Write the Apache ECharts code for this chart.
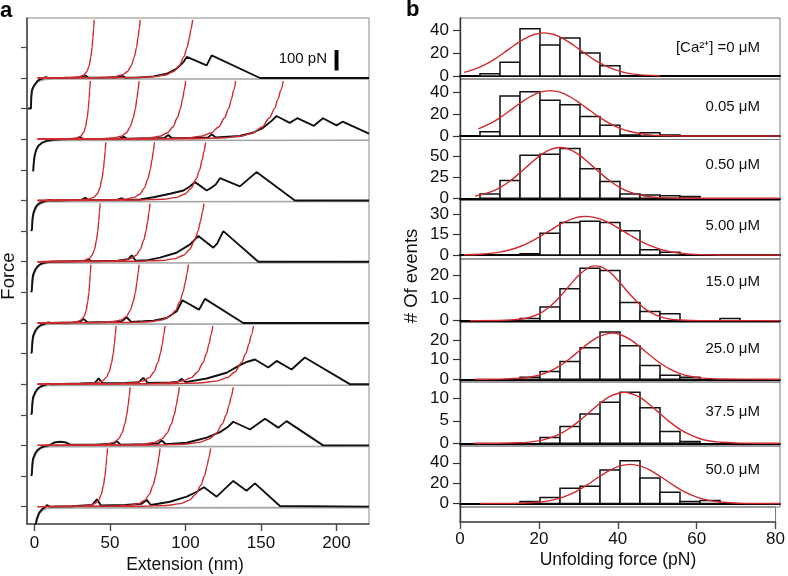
<!DOCTYPE html>
<html><head><meta charset="utf-8">
<script src="https://cdn.jsdelivr.net/npm/echarts@6/dist/echarts.min.js"></script>
<style>html,body{margin:0;padding:0;background:#fff}#c{width:788px;height:576px}</style>
</head><body><div id="c"></div>
<script>
// ---------------- DATA: panel a (force-extension traces, nm / pN relative to each trace baseline) -------------
const EXT_TICKS = [0, 50, 100, 150, 200];
const TRACE_SPACING_PN = 300;          // vertical offset between stacked traces (pN)
const SCALE_BAR_PN = 100;

const BLACK_1 = [[-4.3,-150],[-2.4,-150],[-2.2,-95],[-1.8,-62],[-1,-45],[0.5,-28],[2,-14],[4,-5],[6,-1],[7.5,4],[9,0],[20,1],[31,3],[33.5,13],[35.5,2],[45,2],[55,3],[57.8,12],[60,2],[70,3],[78.7,8],[87.5,21],[94.2,46],[98.6,78],[100.8,103],[114,62],[117.3,111],[149.3,0],[221.5,0]];
const BLACK_2 = [[-0.9,-158],[-0.6,-120],[0,-82],[1,-52],[2.5,-32],[5,-17],[8,-8],[12,-3],[18,0],[28,2],[30.2,11],[32,2],[50,3],[56.5,4],[58.9,13],[61,3],[80,5],[86,6],[88.6,21],[91,5],[110,7],[115,9],[117.3,24],[120,9],[136,16],[145,33],[151.5,57],[157,90],[160.3,114],[169,80],[174,103],[185,66],[191,103],[200,68],[204,86],[221.5,27]];
const BLACK_3 = [[-2.2,-150],[-1.7,-140],[-1.4,-92],[-0.8,-62],[0.5,-36],[2,-20],[4,-10],[7,-3],[9,2],[12,0],[25,2],[31,3],[33.6,13],[36,2],[50,3],[55,4],[57.8,11],[60,3],[70,5],[78.7,16],[89.7,33],[98.6,49],[103,70],[106.3,90],[114,49],[117,62],[120,78],[122.8,109],[136,69],[147,139],[172.4,0],[221.5,0]];
const BLACK_4 = [[-2.2,-150],[-1.8,-140],[-1.5,-95],[-1,-65],[0.5,-38],[2,-22],[4,-11],[7,-4],[10,0],[25,2],[33,3],[35.7,11],[38,2],[55,5],[62,12],[64.4,31],[67,5],[75,8],[83,20],[94,44],[103,85],[108.5,126],[118.4,69],[121,90],[125,150],[148.2,0],[221.5,0]];
const BLACK_5 = [[-2.2,-150],[-1.8,-140],[-1.5,-95],[-1,-65],[0.5,-38],[2,-22],[4,-11],[7,-3],[9,3],[11,0],[25,3],[30,5],[32.4,20],[35,3],[50,5],[58,9],[61,28],[64,5],[72,8],[78.7,11],[87.5,24],[94.2,57],[97.9,111],[108.9,65],[112.9,118],[138.2,0],[221.5,0]];
const BLACK_6 = [[-2.2,-150],[-1.8,-140],[-1.5,-95],[-1,-65],[0.5,-38],[2,-22],[4,-11],[7,-3],[9,3],[11,0],[30,3],[40,6],[42.4,28],[45,5],[60,6],[69,10],[72,31],[75,6],[90,8],[95,12],[97.5,26],[100,10],[114,28],[127.2,56],[136,93],[141,110],[146,121],[154.8,82],[160.3,114],[170.2,72],[179,131],[208.8,0],[221.5,0]];
const BLACK_7 = [[-2.2,-150],[-1.8,-140],[-1.5,-95],[-1,-65],[0.5,-38],[2,-22],[4,-11],[7,-3],[10,2],[13,14],[17,18],[21,14],[24,3],[40,4],[52,8],[54.5,21],[57,4],[75,6],[82,10],[84.2,24],[87,6],[100.8,13],[114,38],[122.8,65],[128,90],[131.6,116],[142.7,78],[152.6,131],[161.4,87],[166.9,119],[191.1,0],[221.5,0]];
const BLACK_8 = [[0.5,-95],[1.5,-60],[3,-30],[5,-12],[7,-3],[8.2,8],[10,0],[25,2],[38,8],[41.3,36],[44,6],[60,8],[71,14],[74.3,33],[77,8],[89.7,24],[100.8,49],[107.4,73],[112.2,95],[120.6,49],[131.6,126],[140.4,78],[146,114],[162.5,3],[221.5,0]];
const BLACK_TRACES = [BLACK_1, BLACK_2, BLACK_3, BLACK_4, BLACK_5, BLACK_6, BLACK_7, BLACK_8];

const GREY_1 = [[-4.3,-146],[-2.3,-144],[-2,-92],[-1.4,-62],[0,-36],[2,-20],[4,-12],[7,-7],[12,-5],[221.5,-5]];
const GREY_2 = [[-0.8,-150],[-0.4,-110],[0.3,-75],[1.5,-48],[3,-30],[5.5,-17],[9,-9],[14,-6],[221.5,-5]];
const GREY_3 = [[-2,-146],[-1.4,-110],[-1,-80],[0,-55],[1.5,-33],[3.5,-18],[6,-10],[10,-6],[221.5,-5]];
const GREY_4 = [[-2,-146],[-1.4,-110],[-1,-80],[0,-55],[1.5,-33],[3.5,-18],[6,-10],[10,-6],[221.5,-5]];
const GREY_5 = [[-2,-146],[-1.4,-110],[-1,-80],[0,-55],[1.5,-33],[3.5,-18],[6,-10],[10,-6],[221.5,-5]];
const GREY_6 = [[-2,-146],[-1.4,-110],[-1,-80],[0,-55],[1.5,-33],[3.5,-18],[6,-10],[10,-6],[221.5,-5]];
const GREY_7 = [[-2,-146],[-1.4,-110],[-1,-80],[0,-55],[1.5,-33],[3.5,-18],[6,-10],[10,-6],[221.5,-5]];
const GREY_8 = [[1,-92],[2,-58],[3.5,-32],[5.5,-16],[8,-9],[12,-6],[221.5,-5]];
const GREY_TRACES = [GREY_1, GREY_2, GREY_3, GREY_4, GREY_5, GREY_6, GREY_7, GREY_8];

// WLC fit curves: x position (nm) where each red fit reaches its top force
const WLC_TOPS = [
  [39.5, 70, 104.7],
  [36.9, 69.2, 100.1, 133.2, 164.7],
  [47.2, 79.4, 113.3],
  [43.4, 76.5, 112.2],
  [37.3, 69.2, 101.9],
  [54, 86.4, 118, 145],
  [63.3, 95.9, 131.6],
  [48.3, 83.1, 116.6]
];
// shape of the red WLC curves: fractional distance before the top vs force (pN)
const WLC_GAP   = [0.4, 0.25, 0.17, 0.12, 0.085, 0.055, 0.035, 0.02, 0.01, 0];
const WLC_FORCE = [2,   6,    15,   32,   60,    105,   150,   200,  240,  285];
const WLC_START = 2;

// ---------------- DATA: panel b (histograms, 5 pN bins from 0) ----------------
const BIN_WIDTH = 5;
const HIST_1 = [0,2,12,41,27,33,20,9,0,0,0,0,0,0,0,0];
const HIST_2 = [0,4,37,41,33,29,18,10,1,3,1,0,0,0,0,0];
const HIST_3 = [0,5,21,51,52,59,35,20,5,4,3,2,0,0,0,0];
const HIST_4 = [0,0,0,1,16,24,25,24,18,4,2,0,0,0,0,0];
const HIST_5 = [0,0,0,1,6,14,23,22,8,4,3,0,0,1,0,0];
const HIST_6 = [0,0,0,1,4,9,16,24,17,7,2,1,0,0,0,0];
const HIST_7 = [0,0,0,0,1.3,3.7,6.5,9.1,11.3,7.9,2.6,0.4,0,0,0,0];
const HIST_8 = [0,0,0,2,6,15,17,33,42,25,11,2,3,0,0,0];
const HISTS = [HIST_1, HIST_2, HIST_3, HIST_4, HIST_5, HIST_6, HIST_7, HIST_8];

const FIT_X_1 = [1,3.5,6,8.5,11,13.5,16,18.5,21,23.5,26,28.5,31,33.5,36,38.5,41,43.5,46,50];
const FIT_Y_1 = [3.2,5.7,9.4,14.3,20.2,26.5,32.1,36.1,37.5,36.1,32.1,26.5,20.2,14.3,9.4,5.7,3.2,1.6,0.8,0.2];
const FIT_X_2 = [4.6,7.5,10,12.5,15,17.5,20,22.5,25,27.5,30,32.5,35,37.5,40,42.5,45,47.5,50,55,60,80];
const FIT_Y_2 = [6.6,11.4,17.0,23.6,30.3,36.3,40.5,42,40.5,36.3,30.3,23.6,17.0,11.4,7.1,4.2,2.3,1.1,0.5,0.1,0,0];
const FIT_X_3 = [3.8,7.5,10,12.5,15,17.5,20,22.5,25,27.5,30,32.5,35,37.5,40,42.5,45,47.5,50,55,60,80];
const FIT_Y_3 = [2.7,7.2,12.6,20.4,30.1,40.7,50.5,57.5,60,57.5,50.5,40.7,30.1,20.4,12.6,7.2,3.8,1.8,0.8,0.1,0,0];
const FIT_X_4 = [1,5,10,12.5,15,17.5,20,22.5,25,27.5,30,31.5,32.5,35,37.5,40,42.5,45,47.5,50,52.5,55,57.5,60,65,80];
const FIT_Y_4 = [0.2,0.6,2.2,3.9,6.3,9.6,13.7,18.2,22.6,26.1,28.2,28.5,28.3,26.6,23.3,19.1,14.6,10.4,6.9,4.3,2.5,1.3,0.7,0.3,0.05,0];
const FIT_X_5 = [2.5,10,15,17.5,20,22.5,25,27.5,30,32.5,34,35,37.5,40,42.5,45,47.5,50,52.5,55,60,80];
const FIT_Y_5 = [0,0.07,0.6,1.5,3.2,6.2,10.5,15.6,20.4,23.5,24,23.8,21.2,16.6,11.5,7.0,3.7,1.8,0.7,0.3,0.03,0];
const FIT_X_6 = [3.75,10,15,17.5,20,22.5,25,27.5,30,32.5,35,38,40,42.5,45,47.5,50,52.5,55,57.5,60,65,80];
const FIT_Y_6 = [0,0.08,0.5,1.1,2.2,4.1,6.9,10.6,14.8,18.9,22.0,23.5,22.8,20.3,16.5,12.2,8.3,5.1,2.9,1.5,0.7,0.1,0];
const FIT_X_7 = [3.3,15,20,22.5,25,27.5,30,32.5,35,37.5,40,41,42.5,45,47.5,50,52.5,55,57.5,60,62.5,65,70,80];
const FIT_Y_7 = [0,0.13,0.6,1.2,2.1,3.4,5.1,7.0,8.9,10.4,11.2,11.3,11.1,10.2,8.5,6.6,4.7,3.1,1.9,1.0,0.5,0.25,0.04,0];
const FIT_X_8 = [5,10,15,20,22.5,25,27.5,30,32.5,35,37.5,40,42.5,45,47.5,50,52.5,55,57.5,60,62.5,65,70,75,80];
const FIT_Y_8 = [0,0.04,0.3,1.5,2.9,5.3,9.0,14.0,20.2,26.8,32.8,37.0,38.5,37.0,32.8,26.8,20.2,14.0,9.0,5.3,2.9,1.5,0.3,0.04,0];
const FIT_X = [FIT_X_1, FIT_X_2, FIT_X_3, FIT_X_4, FIT_X_5, FIT_X_6, FIT_X_7, FIT_X_8];
const FIT_Y = [FIT_Y_1, FIT_Y_2, FIT_Y_3, FIT_Y_4, FIT_Y_5, FIT_Y_6, FIT_Y_7, FIT_Y_8];

const CONC_LABELS = ['[Ca²⁺] =0 μM', '0.05 μM', '0.50 μM', '5.00 μM', '15.0 μM', '25.0 μM', '37.5 μM', '50.0 μM'];
const HIST_YTICKS = [[0,20,40],[0,20,40],[0,25,50],[0,15,30],[0,10,20],[0,10,20],[0,5,10],[0,20,40]];
const FORCE_TICKS = [150,0,-150,-300,-450,-600,-750,-900,-1050,-1200,-1350,-1500,-1650,-1800,-1950,-2100];

// ---------------- LAYOUT ----------------
const FONT = '"Liberation Sans", Arial, Helvetica, sans-serif';
const B_TOPS = [18, 79, 139.5, 200.5, 259, 322.5, 382, 446];
const B_BOTTOM = 507;
const B_AXIS_Y = 522;
const B_YMIN = [-2.6, -3.2, -2.6, -2.9, -0.8, -1.4, -0.6, -3.4];
const B_YMAX = [50.4, 52.7, 69.5, 40.2, 27, 28.9, 13.6, 56.5];
const CONC_Y = [47.5, 106.7, 165, 226, 281.7, 349.3, 411.7, 470];
const RED = '#d02a2e';

const grids = [{ left: 27, right: 419, top: 18, height: 506, show: true, borderColor: '#8a8a8a', borderWidth: 1 }];
const xAxes = [{
  gridIndex: 0, type: 'value', min: -5, max: 221.5, position: 'bottom',
  axisLine: { show: true, onZero: false, lineStyle: { color: '#4a4a4a', width: 1.6 } },
  axisTick: { show: true, customValues: EXT_TICKS, length: 7, lineStyle: { color: '#4a4a4a', width: 1.4 } },
  axisLabel: { show: true, customValues: EXT_TICKS, fontSize: 17, color: '#111', margin: 11, fontFamily: FONT },
  splitLine: { show: false }
}];
const yAxes = [{
  gridIndex: 0, type: 'value', min: -2185, max: 294,
  axisLine: { show: true, onZero: false, lineStyle: { color: '#4a4a4a', width: 1.6 } },
  axisTick: { show: true, customValues: FORCE_TICKS, length: 6, lineStyle: { color: '#4a4a4a', width: 1.2 } },
  axisLabel: { show: false }, splitLine: { show: false }
}];
const series = [];

// panel a traces
BLACK_TRACES.forEach((tr, k) => {
  const off = -TRACE_SPACING_PN * k;
  series.push({ type: 'line', xAxisIndex: 0, yAxisIndex: 0, showSymbol: false, silent: true, z: 2,
    data: GREY_TRACES[k].map(p => [p[0], p[1] + off]), lineStyle: { color: '#a3a3a3', width: 1.6 } });
  series.push({ type: 'line', xAxisIndex: 0, yAxisIndex: 0, showSymbol: false, silent: true, z: 3,
    data: tr.map(p => [p[0], p[1] + off]), lineStyle: { color: '#111', width: 1.9 } });
  WLC_TOPS[k].forEach(top => {
    const pts = [[WLC_START, off]];
    WLC_GAP.forEach((g, i) => pts.push([top * (1 - g), WLC_FORCE[i] + off]));
    series.push({ type: 'line', xAxisIndex: 0, yAxisIndex: 0, showSymbol: false, silent: true, z: 4,
      smooth: 0.3, smoothMonotone: 'x', data: pts, lineStyle: { color: RED, width: 1.4 } });
  });
});
// scale bar
series.push({ type: 'line', xAxisIndex: 0, yAxisIndex: 0, showSymbol: false, silent: true, z: 5,
  data: [[200, 37], [200, 37 + SCALE_BAR_PN]], lineStyle: { color: '#000', width: 4, cap: 'butt' } });

// panel b histograms
HISTS.forEach((h, i) => {
  const gi = i + 1;
  const bottom = i < 7 ? B_TOPS[i + 1] : B_BOTTOM;
  grids.push({ left: 460, right: 8, top: B_TOPS[i], height: bottom - B_TOPS[i], show: true, borderColor: '#7a7a7a', borderWidth: 1 });
  xAxes.push({ gridIndex: gi, type: 'value', min: 0, max: 80, position: 'bottom',
    axisLine: { show: true, onZero: true, lineStyle: { color: '#000', width: 1.8 } },
    axisTick: { show: false }, axisLabel: { show: false }, splitLine: { show: false } });
  yAxes.push({ gridIndex: gi, type: 'value', min: B_YMIN[i], max: B_YMAX[i],
    axisLine: { show: true, onZero: false, lineStyle: { color: '#333', width: 1.4 } },
    axisTick: { show: true, customValues: HIST_YTICKS[i], length: 7, lineStyle: { color: '#333', width: 1.2 } },
    axisLabel: { show: true, customValues: HIST_YTICKS[i], fontSize: 17, color: '#111', margin: 11, fontFamily: FONT },
    splitLine: { show: false } });
  const bars = [];
  h.forEach((c, j) => { if (c > 0) bars.push([j * BIN_WIDTH, (j + 1) * BIN_WIDTH, c]); });
  series.push({ type: 'custom', xAxisIndex: i + 1, yAxisIndex: gi, silent: true, z: 3,
    encode: { x: [0, 1], y: 2 }, data: bars,
    renderItem: (params, api) => {
      const p0 = api.coord([api.value(0), api.value(2)]);
      const p1 = api.coord([api.value(1), 0]);
      return { type: 'rect', shape: { x: p0[0], y: p0[1], width: p1[0] - p0[0], height: p1[1] - p0[1] },
        style: { fill: '#fff', stroke: '#111', lineWidth: 1.5 } };
    } });
  series.push({ type: 'line', xAxisIndex: i + 1, yAxisIndex: gi, showSymbol: false, silent: true, z: 5,
    smooth: 0.4, data: FIT_X[i].map((x, j) => [x, FIT_Y[i][j]]), lineStyle: { color: RED, width: 1.4 } });
});
// bottom strip of panel b carrying the force axis
grids.push({ left: 460, right: 8, top: B_BOTTOM, height: B_AXIS_Y - B_BOTTOM, show: true, borderColor: '#7a7a7a', borderWidth: 1 });
xAxes.push({ gridIndex: 9, type: 'value', min: 0, max: 80, interval: 20, position: 'bottom',
  axisLine: { show: true, onZero: false, lineStyle: { color: '#4a4a4a', width: 1.6 } },
  axisTick: { show: true, length: 7, lineStyle: { color: '#4a4a4a', width: 1.4 } },
  axisLabel: { show: true, fontSize: 17, color: '#111', margin: 9, fontFamily: FONT },
  splitLine: { show: false } });
yAxes.push({ gridIndex: 9, type: 'value', min: 0, max: 1,
  axisLine: { show: true, onZero: false, lineStyle: { color: '#333', width: 1.4 } },
  axisTick: { show: false }, axisLabel: { show: false }, splitLine: { show: false } });

const txt = (text, x, y, opts) => Object.assign({ type: 'text', x, y, silent: true,
  style: Object.assign({ text, font: '16px ' + FONT, fill: '#111', textAlign: 'center', textVerticalAlign: 'middle' }, opts || {}) });

const graphic = [
  txt('a', 0, 11, { font: 'bold 22px ' + FONT, textAlign: 'left', fill: '#000' }),
  txt('b', 406, 10, { font: 'bold 22px ' + FONT, textAlign: 'left', fill: '#000' }),
  txt('100 pN', 327, 58.5, { font: '15px ' + FONT, textAlign: 'right' }),
  Object.assign(txt('Force', 9, 276, { font: '18.5px ' + FONT }), { rotation: Math.PI / 2 }),
  Object.assign(txt('# Of events', 412, 276, { font: '18.5px ' + FONT }), { rotation: Math.PI / 2 }),
  txt('Extension (nm)', 185, 565, { font: '17.5px ' + FONT }),
  txt('Unfolding force (pN)', 618, 560, { font: '17.5px ' + FONT })
];
CONC_LABELS.forEach((t, i) => graphic.push(txt(t, 760, CONC_Y[i], { font: '15px ' + FONT, textAlign: 'right' })));

const chart = echarts.init(document.getElementById('c'), null, { renderer: 'canvas' });
chart.setOption({ animation: false, backgroundColor: '#fff', grid: grids, xAxis: xAxes, yAxis: yAxes, series, graphic });
</script></body></html>
